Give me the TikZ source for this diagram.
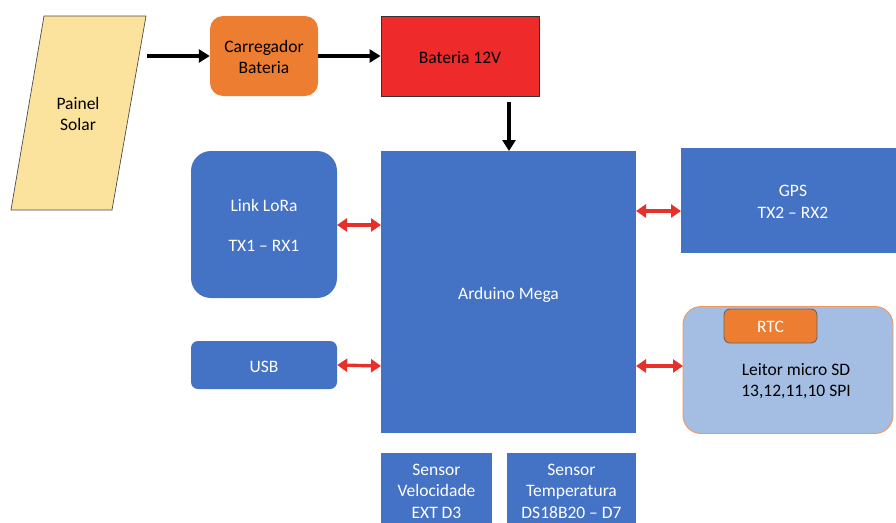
\documentclass[tikz,border=0pt]{standalone}
\usepackage{fontspec}
\setmainfont{Carlito}
\usetikzlibrary{arrows.meta}
\definecolor{blu}{HTML}{4472C4}
\definecolor{orng}{HTML}{ED7D31}
\definecolor{redb}{HTML}{EE2A2A}
\definecolor{sand}{HTML}{FBE29D}
\definecolor{lblu}{HTML}{A4BDE2}
\definecolor{arrred}{HTML}{E8302A}
\tikzset{
  box/.style={draw=none, fill=blu, text=white, align=center, inner sep=0pt,
    font=\fontsize{17.5}{21.5}\selectfont},
  lbl/.style={font=\fontsize{17.5}{21.5}\selectfont, align=center, inner sep=0pt},
  blk/.style={draw=black, line width=3.4pt, -{Triangle[length=11pt,width=13pt]}},
  dbl/.style={draw=arrred, line width=3.4pt, {Triangle[length=10pt,width=13pt]}-{Triangle[length=10pt,width=13pt]}},
}
\begin{document}
\begin{tikzpicture}[x=1pt,y=-1pt]
\useasboundingbox (0,0) rectangle (896,522);
% Painel solar
\draw[fill=sand, draw=black!70, line width=0.7pt] (44,16) -- (146,16) -- (112,210) -- (11,210) -- cycle;
\node[lbl] (painel) at (78,114) {Painel\\Solar};
\coordinate (pr) at (147,56);
% Carregador
\node[box, fill=orng, rounded corners=13pt, minimum width=108pt, minimum height=80pt] (carr) at (264,56) {};
\node[lbl] (carrtxt) at (264,57) {Carregador\\Bateria};
% Bateria
\node[box, fill=redb, draw=black!80, line width=0.9pt, minimum width=158pt, minimum height=80pt] (bat) at (460,56) {};
\node[lbl] (battxt) at (460,58) {Bateria 12V};
% Arduino
\node[box, minimum width=255pt, minimum height=282pt] (ard) at (508.5,292) {};
\node[lbl, text=white] (ardtxt) at (508.5,295) {Arduino Mega};
% LoRa
\node[box, rounded corners=20pt, minimum width=146pt, minimum height=147pt] (lora) at (264,224.5) {};
\node[lbl, text=white] (lora1) at (264,205) {Link LoRa};
\node[lbl, text=white] (lora2) at (264,246) {TX1 – RX1};
% USB
\node[box, rounded corners=7pt, minimum width=146pt, minimum height=48pt] (usb) at (264,365) {};
\node[lbl, text=white] (usbtxt) at (264,367) {USB};
% GPS
\node[box, minimum width=215pt, minimum height=105pt] (gps) at (788.5,200.5) {};
\node[lbl, text=white] (gpstxt) at (793,202) {GPS\\TX2 – RX2};
% SD
\node[box, fill=lblu, draw=orng!80, line width=0.9pt, rounded corners=18pt,
  minimum width=210pt, minimum height=127pt] (sd) at (788,370) {};
\node[lbl] (sdtxt) at (796,381) {Leitor micro SD\\13,12,11,10 SPI};
\node[box, fill=orng, draw=black!60, line width=0.9pt, rounded corners=6pt,
  minimum width=93pt, minimum height=34pt] (rtc) at (770.5,326) {};
\node[lbl, text=white] (rtctxt) at (770.5,327) {RTC};
% Sensors
\node[box, minimum width=111pt, minimum height=80pt, anchor=north] (sv) at (436.5,453) {};
\node[lbl, text=white] (svtxt) at (436.5,491) {Sensor\\Velocidade\\EXT D3};
\node[box, minimum width=129pt, minimum height=80pt, anchor=north] (st) at (571.5,453) {};
\node[lbl, text=white] (sttxt) at (571.5,491) {Sensor\\Temperatura\\DS18B20 – D7};
% Arrow anchor points
\coordinate (ba) at (509,102);
\coordinate (bb) at (509,151);
\coordinate (l1) at (337,225);
\coordinate (l2) at (381,225);
\coordinate (g1) at (636,211);
\coordinate (g2) at (681,211);
\coordinate (s1) at (636,366);
\coordinate (s2) at (683,366);
\coordinate (u1) at (381,366);
% Arrows
\draw[blk] (pr) -- (carr.west |- pr);
\draw[blk] (carr.east) -- (bat.west);
\draw[blk] (ba) -- (bb);
\draw[dbl] (l1) -- (l2);
\draw[dbl] (usb.east) -- (u1);
\draw[dbl] (g1) -- (g2);
\draw[dbl] (s1) -- (s2);
\end{tikzpicture}
\end{document}
